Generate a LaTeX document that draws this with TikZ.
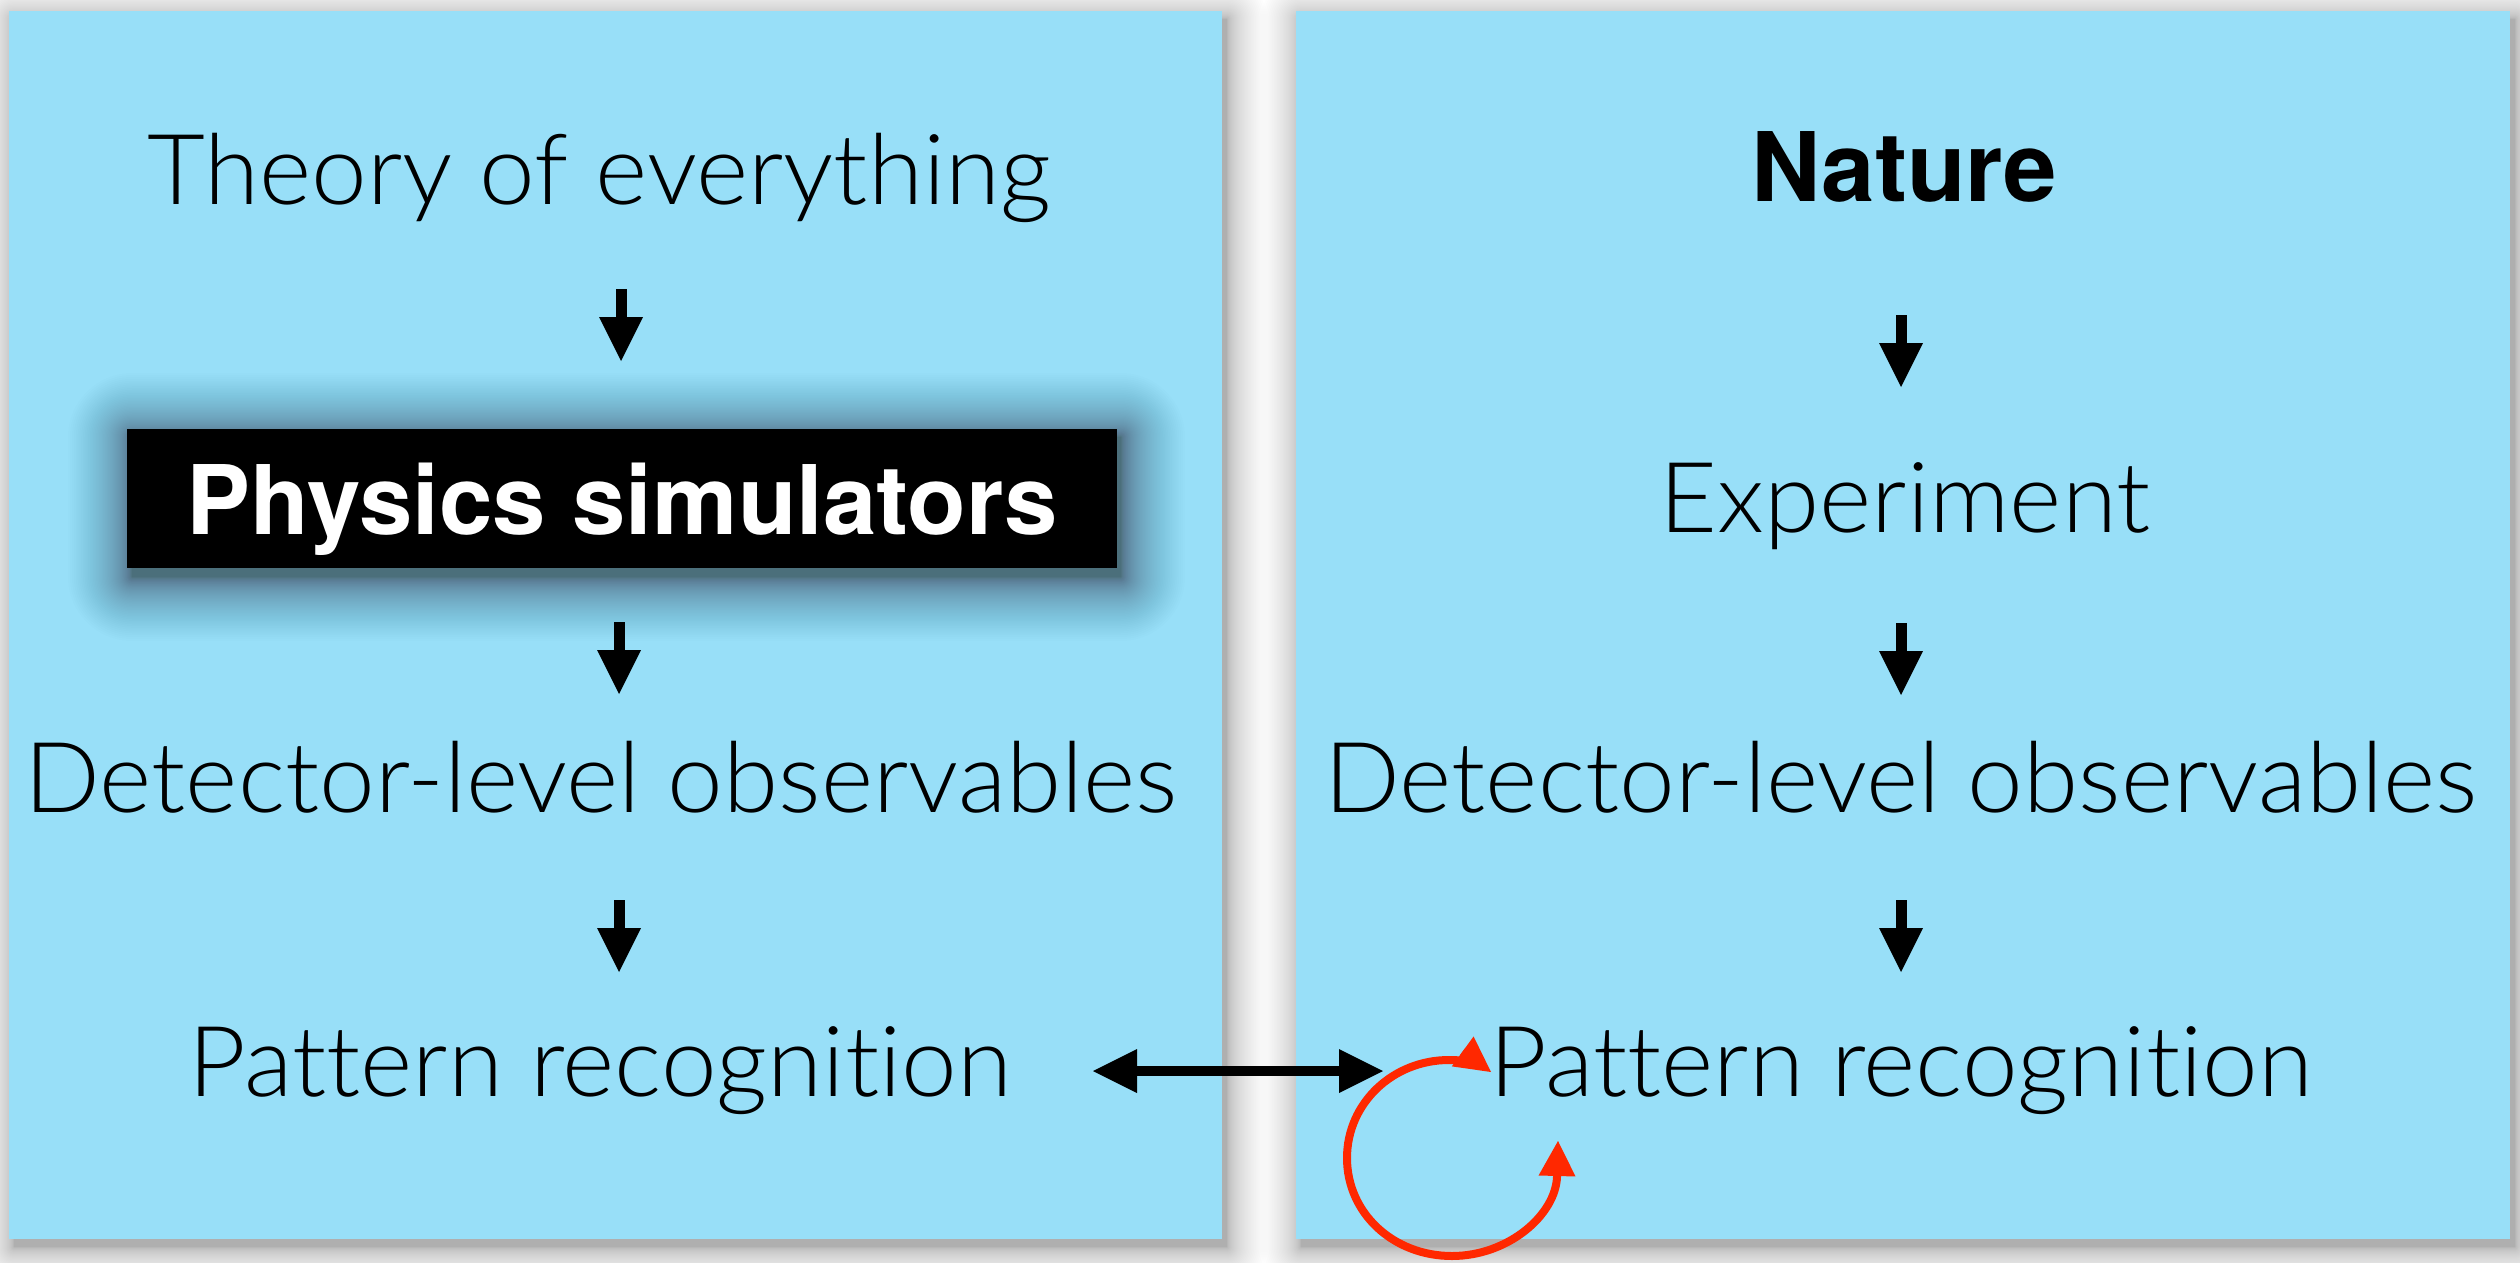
\documentclass[tikz,border=0pt]{standalone}
\usepackage{fontspec}
\setmainfont{Lato Light}[Ligatures=NoCommon, FakeStretch=1.02]
\newfontfamily\heavy{TeX Gyre Heros}
\usetikzlibrary{arrows.meta}
\definecolor{panelblue}{RGB}{152,223,248}
\definecolor{loopred}{RGB}{255,40,0}
\tikzset{
  panel/.style={fill=panelblue},
  lbl/.style={anchor=base, inner sep=0pt, font=\fontsize{98}{110}\selectfont},
  boldlbl/.style={anchor=base, inner sep=0pt, font=\heavy\bfseries\fontsize{96}{110}\selectfont},
  simbox/.style={anchor=base, fill=black, text=white, font=\heavy\bfseries\fontsize{96}{110}\selectfont,
    minimum width=990pt, text height=71pt, text depth=0pt, inner xsep=0pt, inner ysep=34pt},
  darr/.style={line width=11pt, -{Triangle[length=44pt,width=44pt,line width=0pt]}},
  biarr/.style={line width=10pt,
    {Triangle[length=44pt,width=44pt,line width=0pt]}-{Triangle[length=44pt,width=44pt,line width=0pt]}},
  looparr/.style={draw=loopred, line width=8pt,
    {Triangle[length=35pt,width=37pt,line width=0pt]}-{Triangle[length=35pt,width=37pt,line width=0pt]}},
}
\begin{document}
\begin{tikzpicture}[x=1pt, y=-1pt]
  \useasboundingbox (0,0) rectangle (2520,1263);
  \fill[white] (0,0) rectangle (2520,1263);

  % soft drop shadows under the two panels
  \foreach \i in {1,...,40} {
    \pgfmathsetmacro{\r}{\i*\i/40}
    \fill[black, opacity=0.007, rounded corners=\r pt] (14-\r, 19-\r) rectangle (1227+\r, 1247+\r);
    \fill[black, opacity=0.007, rounded corners=\r pt] (1301-\r, 19-\r) rectangle (2515+\r, 1247+\r);
  }
  % panels
  \fill[panel] (9,11) rectangle (1222,1239);
  \fill[panel] (1296,11) rectangle (2510,1239);

  % glow behind the simulator box
  \foreach \i in {1,...,64} {
    \pgfmathsetmacro{\r}{\i*\i/64}
    \fill[black, opacity=0.0075, rounded corners=\r pt] (132-\r, 437-\r) rectangle (1121+\r, 577+\r);
  }

  % left column
  \node[lbl] (theoryL) at (599,204) {Theory of everything};
  \node[simbox] (sim) at (622,534) {Physics simulators};
  \node[lbl] (detL) at (601,812) {Detector-level observables};
  \node[lbl] (patL) at (600,1096) {Pattern recognition};

  % right column
  \node[boldlbl] (nature) at (1904,201) {Nature};
  \node[lbl] (exper) at (1905,532) {Experiment};
  \node[lbl] (detR) at (1901,812) {Detector-level observables};
  \node[lbl] (patR) at (1901,1096) {Pattern recognition};

  % arrow end points
  \coordinate (a1s) at (621,289);  \coordinate (a1e) at (621,361);
  \coordinate (a2s) at (619,622);  \coordinate (a2e) at (619,694);
  \coordinate (a3s) at (619,900);  \coordinate (a3e) at (619,972);
  \coordinate (b1s) at (1901,315); \coordinate (b1e) at (1901,387);
  \coordinate (b2s) at (1901,623); \coordinate (b2e) at (1901,695);
  \coordinate (b3s) at (1901,900); \coordinate (b3e) at (1901,972);
  \coordinate (cl) at (1093,1071); \coordinate (cr) at (1383,1071);
  \coordinate (lpA) at (1558,1141); \coordinate (lpB) at (1491,1072);

  \draw[darr] (a1s) -- (a1e);
  \draw[darr] (a2s) -- (a2e);
  \draw[darr] (a3s) -- (a3e);
  \draw[darr] (b1s) -- (b1e);
  \draw[darr] (b2s) -- (b2e);
  \draw[darr] (b3s) -- (b3e);
  \draw[biarr] (cl) -- (cr);

  % feedback loop
  \draw[looparr] (lpA) .. controls (1556,1215) and (1508,1256) .. (1452,1256)
    .. controls (1393,1256) and (1347,1213) .. (1347,1158)
    .. controls (1347,1103) and (1393,1060) .. (1449,1060)
    .. controls (1466,1060) and (1480,1064) .. (lpB);
\end{tikzpicture}
\end{document}
